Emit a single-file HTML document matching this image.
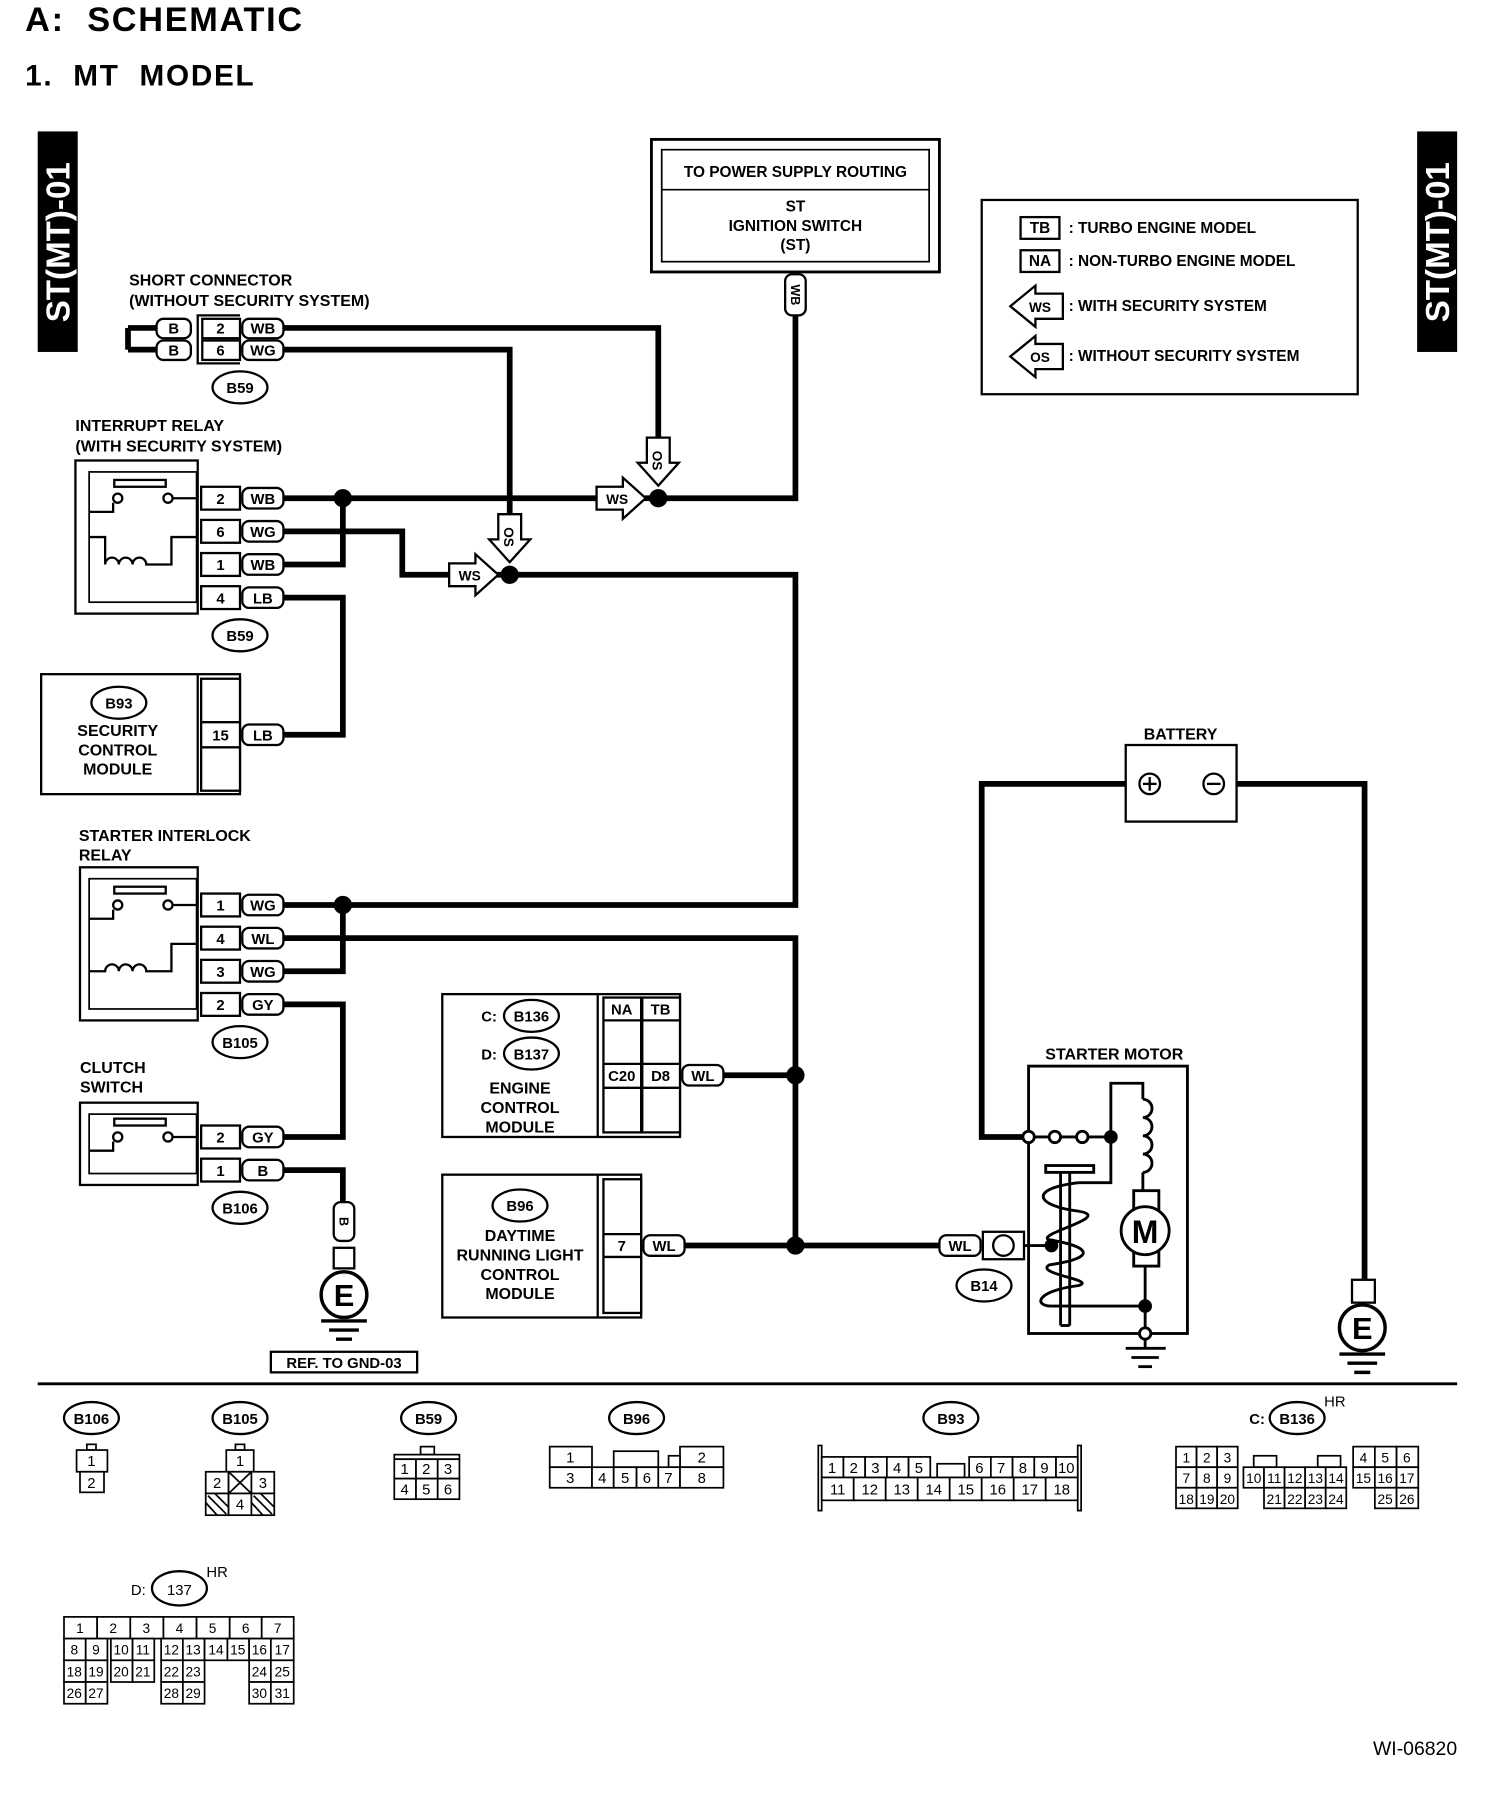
<!DOCTYPE html>
<html><head><meta charset="utf-8"><style>
html,body{margin:0;padding:0;background:#fff}
svg{display:block}
text{font-family:"Liberation Sans",sans-serif;font-weight:bold;fill:#000;white-space:pre}
text.n, .n text{font-weight:normal}
</style></head><body>
<svg width="1504" height="1794" viewBox="0 0 1316 1570" preserveAspectRatio="none" xmlns="http://www.w3.org/2000/svg">
<rect width="1316" height="1570" fill="#fff"/>
<text x="22" y="27" font-size="30" letter-spacing="1.5">A:  SCHEMATIC</text>
<text x="22" y="75" font-size="26" letter-spacing="1.5">1.  MT  MODEL</text>
<!-- side tabs -->
<rect x="33" y="115" width="35" height="193" fill="#000"/>
<text transform="translate(61,212) rotate(-90)" text-anchor="middle" font-size="29" style="fill:#fff">ST(MT)-01</text>
<rect x="1240" y="115" width="35" height="193" fill="#000"/>
<text transform="translate(1268,212) rotate(-90)" text-anchor="middle" font-size="29" style="fill:#fff">ST(MT)-01</text>

<g fill="none" stroke="#000">
<rect x="570" y="122" width="252" height="116" stroke-width="2.5"/>
<rect x="579" y="131" width="234" height="98" stroke-width="1.5"/>
<line x1="579" y1="166" x2="813" y2="166" stroke-width="1.5"/>
<rect x="859" y="175" width="329" height="170" stroke-width="2"/>
<rect x="893" y="190" width="34" height="19" stroke-width="2"/>
<rect x="893" y="219" width="34" height="19" stroke-width="2"/>
<polygon points="930,257 906,257 906,250 884,268 906,286 906,279 930,279" stroke-width="2"/>
<polygon points="930,301 906,301 906,294 884,312 906,330 906,323 930,323" stroke-width="2"/>

<g stroke-width="5" stroke-linejoin="miter">
<polyline points="112,287 112,306"/>
<polyline points="112,287 137,287"/><polyline points="112,306 137,306"/>
<polyline points="248,287 576,287 576,383"/>
<polyline points="248,306 446,306 446,452"/>
<polyline points="696,275 696,436 576,436"/>
<polyline points="248,436 522,436"/>
<polyline points="564,436 576,436"/>
<polyline points="300,436 300,494 248,494"/>
<polyline points="248,465 352,465 352,503 393,503"/>
<polyline points="434,503 696,503 696,792 248,792"/>
<polyline points="248,523 300,523 300,643 248,643"/>
<polyline points="300,792 300,850 248,850"/>
<polyline points="248,821 696,821 696,1090"/>
<polyline points="248,879 300,879 300,995 248,995"/>
<polyline points="248,1024 300,1024 300,1052"/>
<polyline points="633,941 696,941"/>
<polyline points="597,1090 822,1090"/>
<polyline points="997,686 859,686 859,995 895,995"/>
<polyline points="1071,686 1194,686 1194,1120"/>
</g>
</g>
<g fill="#000">
<circle cx="300" cy="436" r="8"/><circle cx="576" cy="436" r="8"/><circle cx="446" cy="503" r="8"/>
<circle cx="300" cy="792" r="8"/><circle cx="696" cy="941" r="8"/><circle cx="696" cy="1090" r="8"/>
</g>
<g fill="#fff" stroke="#000" stroke-width="2">
<polygon points="522,426 545,426 545,418 565,436 545,454 545,446 522,446"/>
<polygon points="393,493 416,493 416,485 436,503 416,521 416,513 393,513"/>
<polygon points="566,383 586,383 586,405 594,405 576,425 558,405 566,405"/>
<polygon points="436,450 456,450 456,472 464,472 446,492 428,472 436,472"/>
</g>
<text x="540" y="441" font-size="12" text-anchor="middle">WS</text>
<text x="411" y="508" font-size="12" text-anchor="middle">WS</text>
<text transform="translate(571,403) rotate(90)" font-size="12" text-anchor="middle">OS</text>
<text transform="translate(441,470) rotate(90)" font-size="12" text-anchor="middle">OS</text>
<text x="910" y="273" font-size="12" text-anchor="middle">WS</text>
<text x="910" y="317" font-size="12" text-anchor="middle">OS</text>

<g font-size="13.5" text-anchor="middle">
<text x="696" y="155">TO POWER SUPPLY ROUTING</text>
<text x="696" y="185">ST</text>
<text x="696" y="202">IGNITION SWITCH</text>
<text x="696" y="219">(ST)</text>
</g>
<rect x="687" y="240" width="18" height="36" rx="6" fill="#fff" stroke="#000" stroke-width="2"/>
<text transform="translate(692,258) rotate(90)" font-size="11" text-anchor="middle">WB</text>
<g font-size="13.5">
<text x="910" y="204" text-anchor="middle">TB</text>
<text x="910" y="233" text-anchor="middle">NA</text>
<text x="935" y="204">: TURBO ENGINE MODEL</text>
<text x="935" y="233">: NON-TURBO ENGINE MODEL</text>
<text x="935" y="272">: WITH SECURITY SYSTEM</text>
<text x="935" y="316">: WITHOUT SECURITY SYSTEM</text>
</g>

<g font-size="14">
<text x="113" y="250">SHORT CONNECTOR</text>
<text x="113" y="268">(WITHOUT SECURITY SYSTEM)</text>
<text x="66" y="377">INTERRUPT RELAY</text>
<text x="66" y="395">(WITH SECURITY SYSTEM)</text>
<text x="69" y="736">STARTER INTERLOCK</text>
<text x="69" y="753">RELAY</text>
<text x="70" y="939">CLUTCH</text>
<text x="70" y="956">SWITCH</text>
<text x="1033" y="647" text-anchor="middle">BATTERY</text>
<text x="975" y="927" text-anchor="middle">STARTER MOTOR</text>
</g>

<g fill="#fff" stroke="#000" stroke-width="2">
<rect x="137" y="279" width="30" height="17" rx="6"/>
<rect x="137" y="298" width="30" height="17" rx="6"/>
<polyline points="210,276 173,276 173,318 210,318" fill="none"/>
<rect x="177" y="279" width="33" height="17"/>
<rect x="177" y="298" width="33" height="17"/>
<rect x="212" y="279" width="36" height="17" rx="6"/>
<rect x="212" y="298" width="36" height="17" rx="6"/>
</g>
<g font-size="13" text-anchor="middle">
<text x="152" y="292">B</text><text x="152" y="311">B</text>
<text x="193" y="292">2</text><text x="193" y="311">6</text>
<text x="230" y="292">WB</text><text x="230" y="311">WG</text>
</g>

<g fill="none" stroke="#000" stroke-width="2">
<rect x="66" y="403" width="107" height="134"/>
<rect x="78" y="413" width="94" height="114" stroke-width="1.5"/>
<rect x="70" y="759" width="103" height="134"/>
<rect x="78" y="769" width="94" height="114" stroke-width="1.5"/>
<rect x="70" y="965" width="103" height="72"/>
<rect x="78" y="975" width="94" height="52" stroke-width="1.5"/>
<rect x="36" y="590" width="174" height="105"/>
<line x1="173" y1="590" x2="173" y2="695"/>
<rect x="100" y="420" width="45" height="6" fill="#fff"/>
<circle cx="103" cy="436" r="4"/><circle cx="147" cy="436" r="4"/>
<polyline points="78,448 99,448 99,440"/><polyline points="172,436 151,436"/>
<path d="M78,470 L92,470 L92,494 A6,6 0 1 1 104,494 A6,6 0 1 1 116,494 A6,6 0 1 1 128,494 L150,494 L150,470 L172,470"/>
<rect x="100" y="776" width="45" height="6" fill="#fff"/>
<circle cx="103" cy="792" r="4"/><circle cx="147" cy="792" r="4"/>
<polyline points="78,804 99,804 99,796"/><polyline points="172,792 151,792"/>
<path d="M78,850 L92,850 A6,6 0 1 1 104,850 A6,6 0 1 1 116,850 A6,6 0 1 1 128,850 L150,850 L150,826 L172,826"/>
<rect x="100" y="979" width="45" height="6" fill="#fff"/>
<circle cx="103" cy="995" r="4"/><circle cx="147" cy="995" r="4"/>
<polyline points="78,1007 99,1007 99,999"/><polyline points="172,995 151,995"/>
</g>
<g fill="#fff" stroke="#000" stroke-width="2">
<rect x="176" y="426" width="34" height="20"/><rect x="176" y="455" width="34" height="20"/><rect x="176" y="484" width="34" height="20"/><rect x="176" y="513" width="34" height="20"/>
<rect x="212" y="427" width="36" height="18" rx="6"/><rect x="212" y="456" width="36" height="18" rx="6"/><rect x="212" y="485" width="36" height="18" rx="6"/><rect x="212" y="514" width="36" height="18" rx="6"/>
<rect x="176" y="594" width="34" height="98"/><line x1="176" y1="632" x2="210" y2="632"/><line x1="176" y1="654" x2="210" y2="654"/>
<rect x="212" y="634" width="36" height="18" rx="6"/>
<rect x="176" y="782" width="34" height="20"/><rect x="176" y="811" width="34" height="20"/><rect x="176" y="840" width="34" height="20"/><rect x="176" y="869" width="34" height="20"/>
<rect x="212" y="783" width="36" height="18" rx="6"/><rect x="212" y="812" width="36" height="18" rx="6"/><rect x="212" y="841" width="36" height="18" rx="6"/><rect x="212" y="870" width="36" height="18" rx="6"/>
<rect x="176" y="985" width="34" height="20"/><rect x="176" y="1014" width="34" height="20"/>
<rect x="212" y="986" width="36" height="18" rx="6"/><rect x="212" y="1015" width="36" height="18" rx="6"/>
<ellipse cx="210" cy="339" rx="24" ry="14"/><ellipse cx="210" cy="556" rx="24" ry="14"/>
<ellipse cx="104" cy="615" rx="24" ry="14"/><ellipse cx="210" cy="912" rx="24" ry="14"/><ellipse cx="210" cy="1057" rx="24" ry="14"/>
</g>
<g font-size="13" text-anchor="middle">
<text x="193" y="441">2</text><text x="193" y="470">6</text><text x="193" y="499">1</text><text x="193" y="528">4</text>
<text x="230" y="441">WB</text><text x="230" y="470">WG</text><text x="230" y="499">WB</text><text x="230" y="528">LB</text>
<text x="193" y="648">15</text><text x="230" y="648">LB</text>
<text x="193" y="797">1</text><text x="193" y="826">4</text><text x="193" y="855">3</text><text x="193" y="884">2</text>
<text x="230" y="797">WG</text><text x="230" y="826">WL</text><text x="230" y="855">WG</text><text x="230" y="884">GY</text>
<text x="193" y="1000">2</text><text x="193" y="1029">1</text>
<text x="230" y="1000">GY</text><text x="230" y="1029">B</text>
<text x="210" y="344">B59</text><text x="210" y="561">B59</text><text x="104" y="620">B93</text>
<text x="210" y="917">B105</text><text x="210" y="1062">B106</text>
<text x="103" y="644" font-size="14">SECURITY</text><text x="103" y="661" font-size="14">CONTROL</text><text x="103" y="678" font-size="14">MODULE</text>
</g>

<g fill="#fff" stroke="#000" stroke-width="2">
<rect x="292" y="1052" width="18" height="34" rx="6"/>
<rect x="292" y="1092" width="18" height="18"/>
<circle cx="301" cy="1133" r="20" stroke-width="3"/>
<rect x="237" y="1183" width="128" height="18"/>
<rect x="1183" y="1120" width="20" height="20"/>
<circle cx="1192" cy="1162" r="20" stroke-width="3"/>
</g>
<text transform="translate(297,1069) rotate(90)" font-size="11" text-anchor="middle">B</text>
<text x="301" y="1143" font-size="27" text-anchor="middle">E</text>
<text x="1192" y="1172" font-size="27" text-anchor="middle">E</text>
<text x="301" y="1197" font-size="13" text-anchor="middle">REF. TO GND-03</text>
<g stroke="#000" stroke-width="3">
<line x1="281" y1="1156" x2="321" y2="1156"/><line x1="288" y1="1164" x2="314" y2="1164"/><line x1="294" y1="1172" x2="308" y2="1172"/>
<line x1="1172" y1="1185" x2="1212" y2="1185"/><line x1="1179" y1="1193" x2="1205" y2="1193"/><line x1="1185" y1="1201" x2="1199" y2="1201"/>
<line x1="33" y1="1211" x2="1275" y2="1211" stroke-width="2.5"/>
</g>

<g fill="#fff" stroke="#000" stroke-width="2">
<rect x="387" y="870" width="208" height="125"/>
<line x1="523" y1="870" x2="523" y2="995"/>
<rect x="528" y="873" width="33" height="118"/><rect x="562" y="873" width="33" height="118"/>
<line x1="528" y1="893" x2="595" y2="893"/><line x1="528" y1="931" x2="595" y2="931"/><line x1="528" y1="952" x2="595" y2="952"/>
<rect x="597" y="932" width="36" height="18" rx="6"/>
<ellipse cx="465" cy="889" rx="24" ry="14"/><ellipse cx="465" cy="922" rx="24" ry="14"/>
<rect x="387" y="1028" width="174" height="125"/>
<line x1="523" y1="1028" x2="523" y2="1153"/>
<rect x="528" y="1032" width="33" height="117"/><line x1="528" y1="1080" x2="561" y2="1080"/><line x1="528" y1="1100" x2="561" y2="1100"/>
<rect x="563" y="1081" width="36" height="18" rx="6"/>
<ellipse cx="455" cy="1055" rx="24" ry="14"/>
<rect x="822" y="1081" width="36" height="18" rx="6"/>
<rect x="860" y="1078" width="36" height="24"/>
<circle cx="878" cy="1090" r="9"/>
<ellipse cx="861" cy="1125" rx="24" ry="14"/>
</g>
<g font-size="13" text-anchor="middle">
<text x="544" y="888">NA</text><text x="578" y="888">TB</text>
<text x="544" y="946">C20</text><text x="578" y="946">D8</text><text x="615" y="946">WL</text>
<text x="428" y="894">C:</text><text x="465" y="894">B136</text>
<text x="428" y="927">D:</text><text x="465" y="927">B137</text>
<text x="455" y="957" font-size="14">ENGINE</text><text x="455" y="974" font-size="14">CONTROL</text><text x="455" y="991" font-size="14">MODULE</text>
<text x="455" y="1060">B96</text>
<text x="455" y="1086" font-size="14">DAYTIME</text><text x="455" y="1103" font-size="14">RUNNING LIGHT</text><text x="455" y="1120" font-size="14">CONTROL</text><text x="455" y="1137" font-size="14">MODULE</text>
<text x="544" y="1095">7</text><text x="581" y="1095">WL</text>
<text x="840" y="1095">WL</text><text x="861" y="1130">B14</text>
</g>

<g fill="#fff" stroke="#000" stroke-width="2">
<rect x="985" y="652" width="97" height="67"/>
<circle cx="1006" cy="686" r="9"/><circle cx="1062" cy="686" r="9"/>
<line x1="1000" y1="686" x2="1012" y2="686"/><line x1="1006" y1="680" x2="1006" y2="692"/><line x1="1056" y1="686" x2="1068" y2="686"/>
</g>

<g fill="none" stroke="#000" stroke-width="2.5">
<rect x="900" y="933" width="139" height="234"/>
<line x1="900" y1="995" x2="918" y2="995"/><line x1="928" y1="995" x2="942" y2="995"/><line x1="952" y1="995" x2="972" y2="995"/>
<polyline points="972,995 972,948 1000,948 1000,962"/>
<path d="M1000,962 a8,8 0 1 1 0,16 a8,8 0 1 1 0,16 a8,8 0 1 1 0,16 a8,8 0 1 1 0,16"/>
<polyline points="1000,1026 1000,1042"/>
<rect x="992" y="1042" width="22" height="66"/>
<polyline points="1002,1108 1002,1167"/>
<polyline points="972,995 972,1035 944,1035"/>
<rect x="915" y="1020" width="42" height="6"/>
<line x1="928" y1="1026" x2="928" y2="1160"/><line x1="936" y1="1026" x2="936" y2="1160"/><line x1="928" y1="1160" x2="936" y2="1160"/>
<path d="M944,1035 C900,1040 905,1055 944,1060 C975,1065 905,1080 918,1085 C950,1090 965,1100 918,1107 C905,1115 960,1120 944,1125 C905,1130 905,1143 920,1143"/>
<line x1="920" y1="1143" x2="1002" y2="1143"/>
<line x1="896" y1="1090" x2="920" y2="1090"/>
<line x1="985" y1="1180" x2="1020" y2="1180"/><line x1="990" y1="1188" x2="1014" y2="1188"/><line x1="996" y1="1196" x2="1008" y2="1196"/>
<line x1="1002" y1="1172" x2="1002" y2="1180"/>
</g>
<g stroke="#000" stroke-width="2.5" fill="#fff">
<circle cx="1002" cy="1077" r="21"/>
<circle cx="900" cy="995" r="5"/><circle cx="923" cy="995" r="5"/><circle cx="947" cy="995" r="5"/>
<circle cx="1002" cy="1167" r="5"/>
</g>
<g fill="#000"><circle cx="972" cy="995" r="6"/><circle cx="920" cy="1090" r="6"/><circle cx="1002" cy="1143" r="6"/></g>
<text x="1002" y="1088" font-size="28" text-anchor="middle">M</text>

<g fill="#fff" stroke="#000" stroke-width="2">
<ellipse cx="80" cy="1241" rx="24" ry="14"/><ellipse cx="210" cy="1241" rx="24" ry="14"/><ellipse cx="375" cy="1241" rx="24" ry="14"/>
<ellipse cx="557" cy="1241" rx="24" ry="14"/><ellipse cx="832" cy="1241" rx="24" ry="14"/><ellipse cx="1135" cy="1241" rx="24" ry="14"/>
<ellipse cx="157" cy="1390" rx="24" ry="15"/>
</g>
<g font-size="13" text-anchor="middle">
<text x="80" y="1246">B106</text><text x="210" y="1246">B105</text><text x="375" y="1246">B59</text>
<text x="557" y="1246">B96</text><text x="832" y="1246">B93</text><text x="1135" y="1246">B136</text>
<text x="1100" y="1246">C:</text><text x="1168" y="1231" class="n">HR</text>
<text x="157" y="1396" class="n">137</text><text x="121" y="1396" class="n">D:</text><text x="190" y="1380" class="n">HR</text>
</g>
<g fill="#fff" stroke="#000" stroke-width="1.5">
<rect x="76" y="1264" width="8" height="5"/><rect x="67" y="1269" width="27" height="19"/><rect x="70" y="1288" width="21" height="18"/>
<rect x="206" y="1264" width="8" height="5"/><rect x="198" y="1269" width="24" height="19"/>
<rect x="180" y="1288" width="20" height="19"/><rect x="200" y="1288" width="20" height="19"/><rect x="220" y="1288" width="20" height="19"/>
<line x1="200" y1="1288" x2="220" y2="1307"/><line x1="220" y1="1288" x2="200" y2="1307"/>
<rect x="180" y="1307" width="20" height="19"/><rect x="200" y="1307" width="20" height="19"/><rect x="220" y="1307" width="20" height="19"/>
<path d="M182,1309 L198,1325 M180,1315 L190,1326 M188,1307 L200,1319 M222,1309 L238,1325 M220,1315 L230,1326 M228,1307 L240,1319"/>
<rect x="368" y="1266" width="12" height="7"/><rect x="345" y="1273" width="57" height="4"/>
<rect x="345" y="1277" width="19" height="17"/><rect x="364" y="1277" width="19" height="17"/><rect x="383" y="1277" width="19" height="17"/>
<rect x="345" y="1294" width="19" height="18"/><rect x="364" y="1294" width="19" height="18"/><rect x="383" y="1294" width="19" height="18"/>
<rect x="481" y="1266" width="37" height="18"/><rect x="595" y="1266" width="38" height="18"/><rect x="537" y="1270" width="39" height="14"/><rect x="585" y="1274" width="10" height="10"/>
<rect x="481" y="1284" width="37" height="18"/><rect x="518" y="1284" width="19" height="18"/><rect x="537" y="1284" width="20" height="18"/><rect x="557" y="1284" width="19" height="18"/><rect x="576" y="1284" width="19" height="18"/><rect x="595" y="1284" width="38" height="18"/>
</g>
<g font-size="13" text-anchor="middle" class="n">
<text x="80" y="1283">1</text><text x="80" y="1302">2</text>
<text x="210" y="1283">1</text><text x="190" y="1302">2</text><text x="230" y="1302">3</text><text x="210" y="1321">4</text>
<text x="354" y="1290">1</text><text x="373" y="1290">2</text><text x="392" y="1290">3</text>
<text x="354" y="1308">4</text><text x="373" y="1308">5</text><text x="392" y="1308">6</text>
<text x="499" y="1280">1</text><text x="614" y="1280">2</text>
<text x="499" y="1298">3</text><text x="527" y="1298">4</text><text x="547" y="1298">5</text><text x="566" y="1298">6</text><text x="585" y="1298">7</text><text x="614" y="1298">8</text>
</g>
<g fill="#fff" stroke="#000" stroke-width="1.5">
<rect x="716" y="1265" width="3" height="57"/><rect x="943" y="1265" width="3" height="57"/>
<rect x="719" y="1275" width="19" height="18"/><rect x="738" y="1275" width="19" height="18"/><rect x="757" y="1275" width="19" height="18"/><rect x="776" y="1275" width="19" height="18"/><rect x="795" y="1275" width="19" height="18"/>
<rect x="820" y="1281" width="24" height="12"/>
<rect x="848" y="1275" width="19" height="18"/><rect x="867" y="1275" width="19" height="18"/><rect x="886" y="1275" width="19" height="18"/><rect x="905" y="1275" width="19" height="18"/><rect x="924" y="1275" width="19" height="18"/>
<rect x="719" y="1293" width="28" height="20"/><rect x="747" y="1293" width="28" height="20"/><rect x="775" y="1293" width="28" height="20"/><rect x="803" y="1293" width="28" height="20"/><rect x="831" y="1293" width="28" height="20"/><rect x="859" y="1293" width="28" height="20"/><rect x="887" y="1293" width="28" height="20"/><rect x="915" y="1293" width="28" height="20"/>
</g>
<g font-size="13" text-anchor="middle" class="n">
<text x="728" y="1289">1</text><text x="747" y="1289">2</text><text x="766" y="1289">3</text><text x="785" y="1289">4</text><text x="804" y="1289">5</text>
<text x="857" y="1289">6</text><text x="876" y="1289">7</text><text x="895" y="1289">8</text><text x="914" y="1289">9</text><text x="933" y="1289">10</text>
<text x="733" y="1308">11</text><text x="761" y="1308">12</text><text x="789" y="1308">13</text><text x="817" y="1308">14</text><text x="845" y="1308">15</text><text x="873" y="1308">16</text><text x="901" y="1308">17</text><text x="929" y="1308">18</text>
</g>
<g fill="#fff" stroke="#000" stroke-width="1.5">
<rect x="1029" y="1266" width="18" height="18"/><rect x="1047" y="1266" width="18" height="18"/><rect x="1065" y="1266" width="18" height="18"/>
<rect x="1097" y="1274" width="20" height="10"/><rect x="1153" y="1274" width="20" height="10"/>
<rect x="1184" y="1266" width="19" height="18"/><rect x="1203" y="1266" width="19" height="18"/><rect x="1222" y="1266" width="19" height="18"/>
<rect x="1029" y="1284" width="18" height="18"/><rect x="1047" y="1284" width="18" height="18"/><rect x="1065" y="1284" width="18" height="18"/>
<rect x="1088" y="1284" width="18" height="18"/><rect x="1106" y="1284" width="18" height="18"/><rect x="1124" y="1284" width="18" height="18"/><rect x="1142" y="1284" width="18" height="18"/><rect x="1160" y="1284" width="18" height="18"/>
<rect x="1184" y="1284" width="19" height="18"/><rect x="1203" y="1284" width="19" height="18"/><rect x="1222" y="1284" width="19" height="18"/>
<rect x="1029" y="1302" width="18" height="18"/><rect x="1047" y="1302" width="18" height="18"/><rect x="1065" y="1302" width="18" height="18"/>
<rect x="1106" y="1302" width="18" height="18"/><rect x="1124" y="1302" width="18" height="18"/><rect x="1142" y="1302" width="18" height="18"/><rect x="1160" y="1302" width="18" height="18"/>
<rect x="1203" y="1302" width="19" height="18"/><rect x="1222" y="1302" width="19" height="18"/>
</g>
<g font-size="12" text-anchor="middle" class="n">
<text x="1038" y="1280">1</text><text x="1056" y="1280">2</text><text x="1074" y="1280">3</text>
<text x="1193" y="1280">4</text><text x="1212" y="1280">5</text><text x="1231" y="1280">6</text>
<text x="1038" y="1298">7</text><text x="1056" y="1298">8</text><text x="1074" y="1298">9</text>
<text x="1097" y="1298">10</text><text x="1115" y="1298">11</text><text x="1133" y="1298">12</text><text x="1151" y="1298">13</text><text x="1169" y="1298">14</text>
<text x="1193" y="1298">15</text><text x="1212" y="1298">16</text><text x="1231" y="1298">17</text>
<text x="1038" y="1316">18</text><text x="1056" y="1316">19</text><text x="1074" y="1316">20</text>
<text x="1115" y="1316">21</text><text x="1133" y="1316">22</text><text x="1151" y="1316">23</text><text x="1169" y="1316">24</text>
<text x="1212" y="1316">25</text><text x="1231" y="1316">26</text>
</g>
<g fill="#fff" stroke="#000" stroke-width="1.5">
<rect x="56" y="1415" width="29" height="19"/><rect x="85" y="1415" width="29" height="19"/><rect x="114" y="1415" width="29" height="19"/><rect x="143" y="1415" width="29" height="19"/><rect x="172" y="1415" width="29" height="19"/><rect x="201" y="1415" width="28" height="19"/><rect x="229" y="1415" width="28" height="19"/>
<rect x="56" y="1434" width="19" height="19"/><rect x="75" y="1434" width="19" height="19"/><rect x="97" y="1434" width="19" height="19"/><rect x="116" y="1434" width="19" height="19"/><rect x="141" y="1434" width="19" height="19"/><rect x="160" y="1434" width="19" height="19"/><rect x="179" y="1434" width="20" height="19"/><rect x="199" y="1434" width="19" height="19"/><rect x="218" y="1434" width="19" height="19"/><rect x="237" y="1434" width="20" height="19"/>
<rect x="56" y="1453" width="19" height="19"/><rect x="75" y="1453" width="19" height="19"/><rect x="97" y="1453" width="19" height="19"/><rect x="116" y="1453" width="19" height="19"/><rect x="141" y="1453" width="19" height="19"/><rect x="160" y="1453" width="19" height="19"/><rect x="218" y="1453" width="19" height="19"/><rect x="237" y="1453" width="20" height="19"/>
<rect x="56" y="1472" width="19" height="19"/><rect x="75" y="1472" width="19" height="19"/><rect x="141" y="1472" width="19" height="19"/><rect x="160" y="1472" width="19" height="19"/><rect x="218" y="1472" width="19" height="19"/><rect x="237" y="1472" width="20" height="19"/>
</g>
<g font-size="12" text-anchor="middle" class="n">
<text x="70" y="1429">1</text><text x="99" y="1429">2</text><text x="128" y="1429">3</text><text x="157" y="1429">4</text><text x="186" y="1429">5</text><text x="215" y="1429">6</text><text x="243" y="1429">7</text>
<text x="65" y="1448">8</text><text x="84" y="1448">9</text><text x="106" y="1448">10</text><text x="125" y="1448">11</text><text x="150" y="1448">12</text><text x="169" y="1448">13</text><text x="189" y="1448">14</text><text x="208" y="1448">15</text><text x="227" y="1448">16</text><text x="247" y="1448">17</text>
<text x="65" y="1467">18</text><text x="84" y="1467">19</text><text x="106" y="1467">20</text><text x="125" y="1467">21</text><text x="150" y="1467">22</text><text x="169" y="1467">23</text><text x="227" y="1467">24</text><text x="247" y="1467">25</text>
<text x="65" y="1486">26</text><text x="84" y="1486">27</text><text x="150" y="1486">28</text><text x="169" y="1486">29</text><text x="227" y="1486">30</text><text x="247" y="1486">31</text>
</g>
<text x="1275" y="1536" font-size="17" text-anchor="end" class="n">WI-06820</text>
</svg>
</body></html>
